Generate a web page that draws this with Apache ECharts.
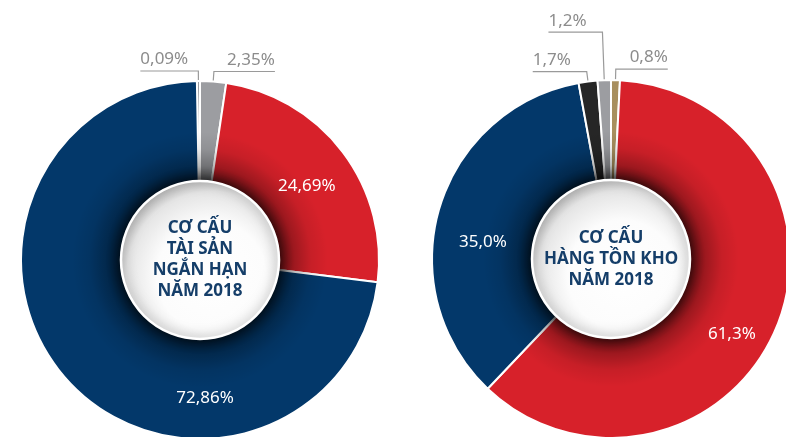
<!DOCTYPE html>
<html>
<head>
<meta charset="utf-8">
<script src="https://cdn.jsdelivr.net/npm/echarts@6/dist/echarts.min.js"></script>
<style>
html, body { margin: 0; padding: 0; background: #fff; }
#main { width: 786px; height: 437px; }
</style>
</head>
<body>
<div id="main"></div>
<script>
// tỷ trọng (%), theo chiều kim đồng hồ từ đỉnh vòng
const leftTitle = 'CƠ CẤU\nTÀI SẢN\nNGẮN HẠN\nNĂM 2018';
const leftValues = [0.09, 2.35, 24.69, 72.86];
const leftDecimals = 2;

const rightTitle = 'CƠ CẤU\nHÀNG TỒN KHO\nNĂM 2018';
const rightValues = [0.8, 61.3, 35.0, 1.7, 1.2];
const rightDecimals = 1;

const leftColors = ['#9c9da1', '#9c9da1', '#d7212a', '#03386a'];
const rightColors = ['#a88f5e', '#d7212a', '#03386a', '#262626', '#9c9da1'];

const FONT = 'Noto Sans';
const NAVY_TEXT = '#153e69';
const HUB_R = 79;
const RING_R = 179;
const SHADE_R = 128;

const fmt = (v, d) => v.toFixed(d).replace('.', ',') + '%';

// label line lengths for the small slices, and nudges for the inside labels
const leftLines = { 0: [10, 58], 1: [10, 61] };
const leftNudge = { 2: [2, 6], 3: [103, 50] };
const rightLines = { 0: [11, 52], 3: [10, 54], 4: [48, 54] };
const rightNudge = { 1: [0, 23], 2: [-2, 21] };

function ring(values, colors, decimals, center, startAngle, lines, nudge) {
  return {
    type: 'pie',
    center: center,
    radius: [HUB_R - 1, RING_R],
    startAngle: startAngle,
    minAngle: 1,
    avoidLabelOverlap: false,
    animation: false,
    emphasis: { disabled: true },
    itemStyle: { borderColor: '#fff', borderWidth: 2 },
    labelLine: { lineStyle: { color: '#9a9a9a', width: 1.2 } },
    labelLayout: function (p) {
      const pts = p.labelLinePoints;
      if (lines[p.dataIndex] && pts) {
        const onLeft = pts[2][0] < pts[1][0];
        return {
          x: pts[2][0],
          y: pts[2][1] - 3,
          align: onLeft ? 'left' : 'right',
          verticalAlign: 'bottom',
          labelLinePoints: pts
        };
      }
      const n = nudge[p.dataIndex] || [0, 0];
      return { dx: n[0], dy: n[1] };
    },
    data: values.map((v, i) => {
      const out = !!lines[i];
      return {
        value: v,
        itemStyle: { color: colors[i] },
        label: {
          show: true,
          position: out ? 'outside' : 'inside',
          formatter: fmt(v, decimals),
          color: out ? '#8c8c8c' : '#ffffff',
          fontFamily: FONT,
          fontSize: 17
        },
        labelLine: out
          ? { show: true, length: lines[i][0], length2: lines[i][1] }
          : { show: false }
      };
    })
  };
}

// dark falloff cast by the hub onto the ring
function shade(center) {
  const k = HUB_R / SHADE_R;
  return {
    type: 'pie',
    center: center,
    radius: [HUB_R - 1, SHADE_R],
    silent: true,
    animation: false,
    label: { show: false },
    labelLine: { show: false },
    itemStyle: {
      color: new echarts.graphic.RadialGradient(0.5, 0.5, 0.5, [
        { offset: k, color: 'rgba(0,0,0,0.62)' },
        { offset: k + (1 - k) * 0.3, color: 'rgba(0,0,0,0.28)' },
        { offset: k + (1 - k) * 0.65, color: 'rgba(0,0,0,0.08)' },
        { offset: 1, color: 'rgba(0,0,0,0)' }
      ])
    },
    data: [{ value: 1 }]
  };
}

function hub(title, center) {
  return {
    type: 'pie',
    center: center,
    radius: [0, HUB_R],
    silent: true,
    animation: false,
    emphasis: { disabled: true },
    label: {
      show: true,
      position: 'center',
      formatter: title,
      color: NAVY_TEXT,
      fontFamily: FONT,
      fontSize: 17,
      fontWeight: 'bold',
      lineHeight: 21
    },
    labelLine: { show: false },
    itemStyle: {
      color: new echarts.graphic.RadialGradient(0.57, 0.6, 0.62, [
        { offset: 0, color: '#ffffff' },
        { offset: 0.55, color: '#fcfcfc' },
        { offset: 0.85, color: '#e4e4e4' },
        { offset: 1, color: '#b9b9b9' }
      ]),
      borderColor: '#ffffff',
      borderWidth: 2.5,
      shadowBlur: 12,
      shadowColor: 'rgba(0,0,0,0.5)'
    },
    data: [{ value: 1 }]
  };
}

const chart = echarts.init(document.getElementById('main'));
chart.setOption({
  backgroundColor: '#ffffff',
  animation: false,
  series: [
    ring(leftValues, leftColors, leftDecimals, [200, 260], 91, leftLines, leftNudge),
    shade([200, 260]),
    hub(leftTitle, [200, 260]),
    ring(rightValues, rightColors, rightDecimals, [611, 259], 90, rightLines, rightNudge),
    shade([611, 259]),
    hub(rightTitle, [611, 259])
  ]
});
</script>
</body>
</html>
